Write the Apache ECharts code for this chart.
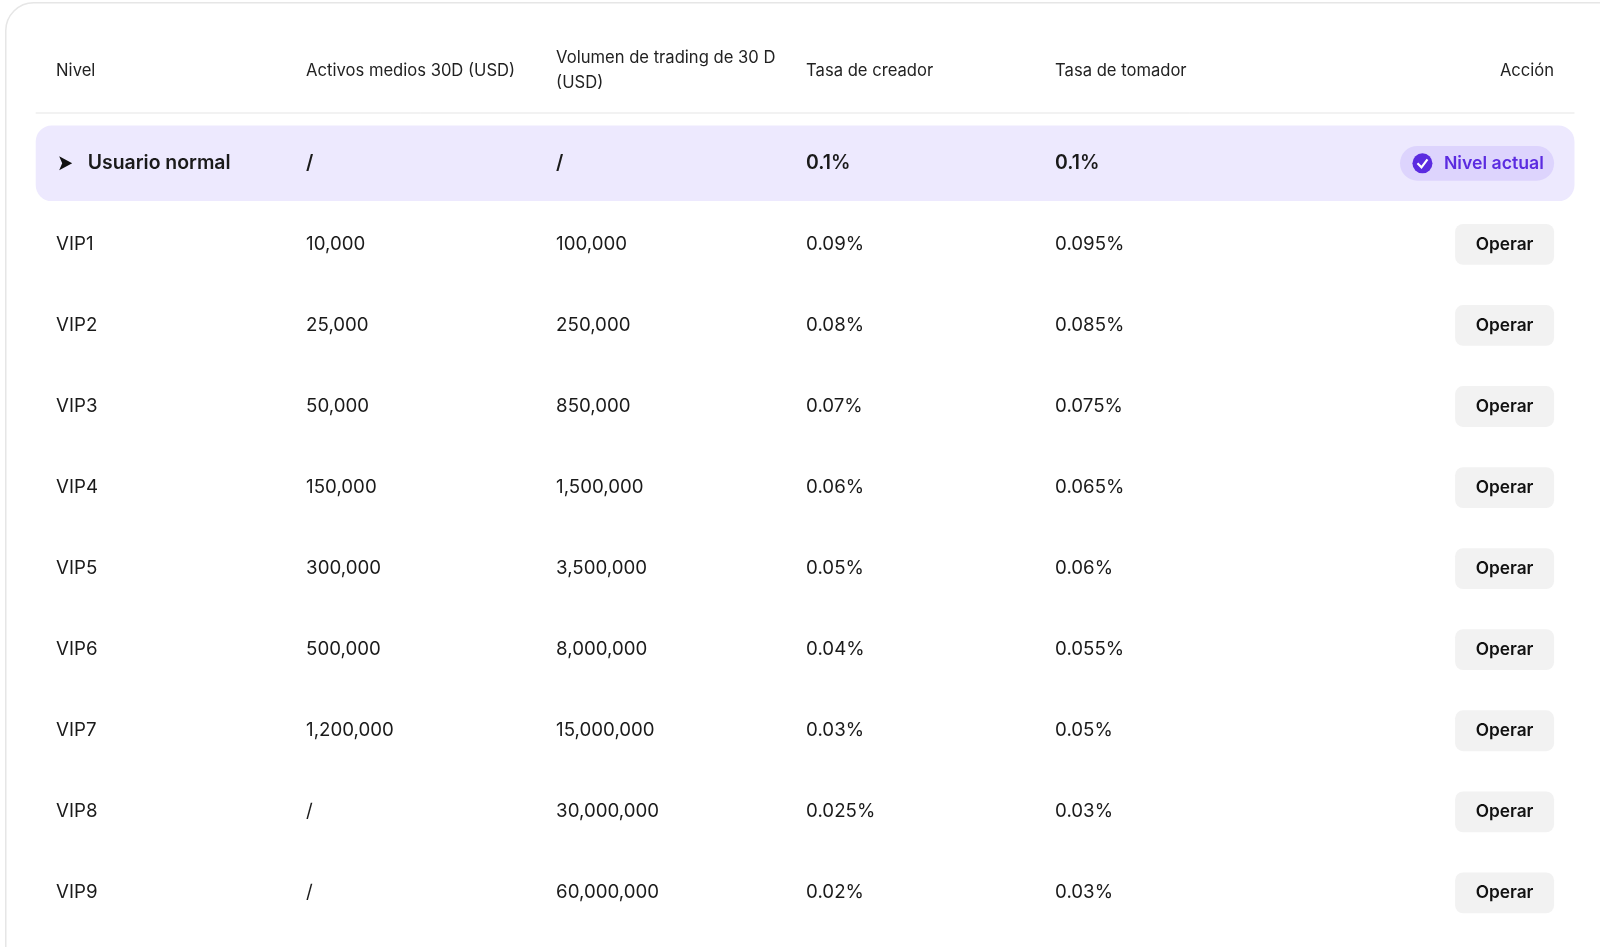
<!DOCTYPE html>
<html><head><meta charset="utf-8">
<script src="https://cdn.jsdelivr.net/npm/echarts@6/dist/echarts.min.js"></script>
<style>html,body{margin:0;background:#fff}#c{width:1600px;height:947px}</style>
</head><body><div id="c"></div>
<script>
var headers = ['Nivel', 'Activos medios 30D (USD)', 'Volumen de trading de 30 D\n(USD)', 'Tasa de creador', 'Tasa de tomador', 'Acción'];
var levels = ['Usuario normal', 'VIP1', 'VIP2', 'VIP3', 'VIP4', 'VIP5', 'VIP6', 'VIP7', 'VIP8', 'VIP9'];
var assets = ['/', '10,000', '25,000', '50,000', '150,000', '300,000', '500,000', '1,200,000', '/', '/'];
var volume = ['/', '100,000', '250,000', '850,000', '1,500,000', '3,500,000', '8,000,000', '15,000,000', '30,000,000', '60,000,000'];
var maker = ['0.1%', '0.09%', '0.08%', '0.07%', '0.06%', '0.05%', '0.04%', '0.03%', '0.025%', '0.02%'];
var taker = ['0.1%', '0.095%', '0.085%', '0.075%', '0.065%', '0.06%', '0.055%', '0.05%', '0.03%', '0.03%'];
var actions = ['Nivel actual', 'Operar', 'Operar', 'Operar', 'Operar', 'Operar', 'Operar', 'Operar', 'Operar', 'Operar'];

var S = 1600 / 1568;
var colX = [55, 300, 545, 790, 1034].map(function (v) { return v * S; });
var RIGHT = 1523 * S;
var FONT = 'Inter, "Noto Sans", sans-serif';
function f(w, px) { return w + ' ' + (px * S).toFixed(1) + 'px ' + FONT; }
var chart = echarts.init(document.getElementById('c'));

function renderRow(params, api) {
  var i = api.value(0);
  var y = api.coord([0, i])[1];
  var cur = i === 0;
  var vals = [levels[i], assets[i], volume[i], maker[i], taker[i]];
  var kids = [];
  if (cur) {
    kids.push({type: 'rect', shape: {x: 35 * S, y: y - 37 * S, width: 1508 * S, height: 74 * S, r: 16}, style: {fill: '#ede9fe'}});
    var ax = 58 * S;
    kids.push({type: 'polygon', shape: {points: [[ax, y - 7], [ax + 13, y], [ax, y + 7], [ax + 3, y]]}, style: {fill: '#111'}});
  }
  vals.forEach(function (v, k) {
    var x = api.coord([colX[k], i])[0] + (cur && k === 0 ? 31 * S : 0);
    kids.push({type: 'text', x: x, y: y, style: {text: v, fill: '#1a1a1a', font: cur ? f(600, 19) : f('normal', 18.3), verticalAlign: 'middle', align: 'left'}});
  });
  var rx = api.coord([RIGHT, i])[0];
  if (cur) {
    kids.push({type: 'rect', shape: {x: rx - 151 * S, y: y - 17 * S, width: 151 * S, height: 34 * S, r: 18}, style: {fill: '#ddd4fd'}});
    kids.push({type: 'circle', shape: {cx: rx - 129 * S, cy: y, r: 10}, style: {fill: '#5b2be0'}});
    var cx = rx - 129 * S;
    kids.push({type: 'polyline', shape: {points: [[cx - 5, y], [cx - 1, y + 4], [cx + 5, y - 4]]}, style: {stroke: '#fff', lineWidth: 2.2, fill: null}});
    kids.push({type: 'text', x: rx - 10 * S, y: y, style: {text: actions[i], fill: '#5b2be0', font: f(600, 17.3), align: 'right', verticalAlign: 'middle'}});
  } else {
    kids.push({type: 'rect', shape: {x: rx - 97 * S, y: y - 20 * S, width: 97 * S, height: 40 * S, r: 8}, style: {fill: '#f2f2f2'}});
    kids.push({type: 'text', x: rx - 48.5 * S, y: y, style: {text: actions[i], fill: '#111', font: f(600, 17), align: 'center', verticalAlign: 'middle'}});
  }
  return {type: 'group', children: kids};
}

var headerGraphics = headers.map(function (h, k) {
  var last = k === headers.length - 1;
  return {type: 'text', left: last ? null : colX[k], right: last ? 1600 - RIGHT : null, top: (h.indexOf('\n') >= 0 ? 44 : 57) * S,
    style: {text: h, fill: '#222', font: f('normal', 16.3), lineHeight: 25 * S}};
});

chart.setOption({
  animation: false,
  backgroundColor: '#fff',
  grid: {left: 0, right: 0, top: 122.8, bottom: 13.6},
  xAxis: {type: 'value', min: 0, max: 1600, show: false},
  yAxis: {type: 'category', data: levels, inverse: true, show: false},
  graphic: [
    {type: 'rect', left: 5, top: 2, shape: {width: 1640, height: 1000, r: 28}, style: {fill: '#fff', stroke: '#e6e6e6', lineWidth: 1.5}, z: -10},
    {type: 'line', shape: {x1: 35 * S, y1: 113, x2: 1543 * S, y2: 113}, style: {stroke: '#e5e5e5', lineWidth: 1}}
  ].concat(headerGraphics),
  series: [{
    type: 'custom',
    renderItem: renderRow,
    data: levels.map(function (l, i) { return [i]; }),
    encode: {y: 0}
  }]
});
</script></body></html>
